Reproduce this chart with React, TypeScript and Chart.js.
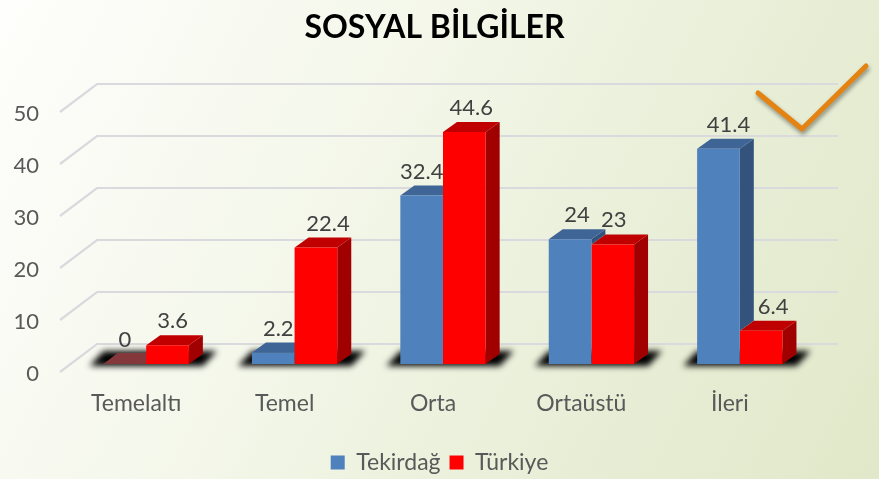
import React, { useEffect, useRef } from "react";
import { Chart, registerables } from "chart.js";

Chart.register(...registerables);

const categories = ["Temelaltı", "Temel", "Orta", "Ortaüstü", "İleri"];
const tekirdag = [0, 2.2, 32.4, 24, 41.4];
const turkiye = [3.6, 22.4, 44.6, 23, 6.4];
const seriesNames = ["Tekirdağ", "Türkiye"];
const labelNudgeX = [
  [0, 5, 0, 7, 10],
  [5, 12, 7, 1, 12],
];

const FONT = "Lato, Carlito, Calibri, sans-serif";
const BLUE = { front: "#4F81BD", top: "#3F6596", side: "#33527C" };
const RED = { front: "#FF0000", top: "#C00000", side: "#A00000" };
const DX = 14;
const DY = 10;

function poly(ctx: CanvasRenderingContext2D, pts: number[][], fill: string) {
  ctx.beginPath();
  pts.forEach((p, i) => (i ? ctx.lineTo(p[0], p[1]) : ctx.moveTo(p[0], p[1])));
  ctx.closePath();
  ctx.fillStyle = fill;
  ctx.fill();
}

const depthPlugin = {
  id: "depth",
  afterLayout(chart: any) {
    // the title sits slightly left of the canvas centre
    chart.titleBlock.left -= 10;
  },
  beforeDatasetsDraw(chart: any) {
    const ctx: CanvasRenderingContext2D = chart.ctx;
    const y = chart.scales.y;
    const a = chart.chartArea;
    ctx.save();
    // walls: gridlines on the back and side planes
    ctx.strokeStyle = "#D9D9DE";
    ctx.lineWidth = 2.2;
    y.ticks.forEach((t: any) => {
      const py = y.getPixelForValue(t.value);
      ctx.beginPath();
      ctx.moveTo(a.left - 12, py + 8);
      ctx.lineTo(a.left + 25, py - 20);
      ctx.lineTo(a.right + 24, py - 20);
      ctx.stroke();
    });
    // floor shadows
    const m0 = chart.getDatasetMeta(0).data;
    const m1 = chart.getDatasetMeta(1).data;
    ctx.save();
    ctx.filter = "blur(3px)";
    m0.forEach((b: any, i: number) => {
      const l = b.x - b.width / 2;
      const r = m1[i].x + m1[i].width / 2;
      const base = b.base;
      poly(ctx, [[l - 14, base + 2], [r + 14, base + 2], [r + 28, base - 13], [l, base - 13]], "#000000");
    });
    ctx.restore();
    // sides and tops: the second series first, the first one over it
    [1, 0].forEach((d) => {
      const c = d === 0 ? BLUE : RED;
      chart.getDatasetMeta(d).data.forEach((b: any, i: number) => {
        const l = b.x - b.width / 2;
        const r = b.x + b.width / 2;
        const t = b.y;
        const base = b.base;
        if (Math.abs(base - t) < 0.5) {
          poly(ctx, [[l, t], [r, t], [r + DX, t - DY - 1], [l + DX, t - DY - 1]], "#84383C");
          return;
        }
        // the neighbour to the right hides the lower part of the side face
        const sideBottom = d === 0 ? m1[i].y : base;
        if (sideBottom > t) {
          poly(ctx, [[r, t], [r + DX, t - DY], [r + DX, sideBottom - DY], [r, sideBottom]], c.side);
        }
        poly(ctx, [[l, t], [r, t], [r + DX, t - DY], [l + DX, t - DY]], c.top);
      });
    });
    ctx.restore();
  },
  afterDatasetsDraw(chart: any) {
    const ctx: CanvasRenderingContext2D = chart.ctx;
    ctx.save();
    ctx.font = `22px ${FONT}`;
    ctx.fillStyle = "#404040";
    ctx.textAlign = "center";
    ctx.textBaseline = "middle";
    chart.data.datasets.forEach((ds: any, d: number) => {
      chart.getDatasetMeta(d).data.forEach((b: any, i: number) => {
        ctx.fillText(String(ds.data[i]), b.x + labelNudgeX[d][i], b.y - 24);
      });
    });
    // hand-placed tick mark annotation
    ctx.strokeStyle = "#E48312";
    ctx.lineWidth = 5;
    ctx.lineCap = "round";
    ctx.lineJoin = "round";
    ctx.shadowColor = "rgba(0,0,0,0.4)";
    ctx.shadowBlur = 4;
    ctx.shadowOffsetX = 1;
    ctx.shadowOffsetY = 3;
    const a = chart.chartArea;
    ctx.beginPath();
    ctx.moveTo(a.right - 56, a.top - 11);
    ctx.lineTo(a.right - 12, a.top + 25);
    ctx.lineTo(a.right + 52, a.top - 38);
    ctx.stroke();
    ctx.restore();
  },
};

export default function App() {
  const ref = useRef<HTMLCanvasElement>(null);
  useEffect(() => {
    document.body.style.margin = "0";
    const chart = new Chart(ref.current as HTMLCanvasElement, {
      type: "bar",
      data: {
        labels: categories,
        datasets: [
          { label: seriesNames[0], data: tekirdag, backgroundColor: BLUE.front },
          { label: seriesNames[1], data: turkiye, backgroundColor: RED.front },
        ],
      },
      plugins: [depthPlugin],
      options: {
        responsive: false,
        animation: false,
        layout: { padding: { left: 0, right: 0, top: 0, bottom: -5 } },
        datasets: { bar: { categoryPercentage: 0.575, barPercentage: 1 } },
        plugins: {
          tooltip: { enabled: false },
          title: {
            display: true,
            text: "SOSYAL BİLGİLER",
            color: "#000000",
            font: { family: FONT, size: 32, weight: "bold" },
            padding: { top: 8, bottom: 57.6 },
          },
          legend: {
            position: "bottom",
            labels: { boxWidth: 14, boxHeight: 14, color: "#595959", padding: 9, font: { family: FONT, size: 23 } },
          },
        },
        scales: {
          x: {
            grid: { display: false, drawTicks: false },
            border: { display: false },
            ticks: { color: "#595959", font: { family: FONT, size: 23 }, padding: 26, labelOffset: -10, maxRotation: 0 },
            afterFit: (s: any) => { s.height = 78; },
          },
          y: {
            min: 0,
            max: 50,
            grid: { display: false, drawTicks: false },
            border: { display: false },
            ticks: { stepSize: 10, color: "#595959", font: { family: FONT, size: 22 }, padding: 33, labelOffset: 10 },
            afterFit: (s: any) => { s.width = 72; },
          },
          r: {
            type: "linear",
            axis: "y",
            position: "right",
            grid: { display: false, drawTicks: false },
            border: { display: false },
            ticks: { display: false },
            afterFit: (s: any) => { s.width = 65; },
          },
        },
      },
    } as any);
    return () => chart.destroy();
  }, []);
  return (
    <canvas
      ref={ref}
      width={879}
      height={479}
      style={{
        display: "block",
        width: 879,
        height: 479,
        background: "linear-gradient(118deg, #FEFEFC 0%, #F4F7EA 38%, #E9EFD8 68%, #E1E8C9 100%)",
      }}
    />
  );
}
